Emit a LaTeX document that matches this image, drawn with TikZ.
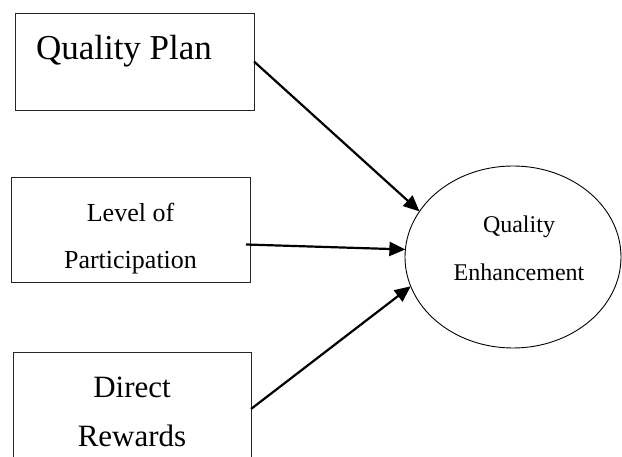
\documentclass[tikz,border=0pt]{standalone}
\usepackage{fontspec}
\setmainfont{Liberation Serif}
\usetikzlibrary{arrows.meta, positioning, shapes}

\begin{document}
\begin{tikzpicture}[x=1pt, y=1pt]
\tikzset{every node/.style={inner sep=0mm, outer sep=0mm}}

\tikzstyle{factor}=[rectangle, draw=black!85, line width=0.9pt, minimum width=239pt]
\tikzstyle{outcome}=[ellipse, draw=black, line width=0.9pt, minimum width=216pt, minimum height=182pt]
\tikzstyle{label}=[align=center]
\tikzstyle{post}=[-{Triangle[length=16pt, width=14pt]}, line width=2.2pt]

\clip (0,0) rectangle (622,457);

\node[factor, minimum height=97pt] (plan) at (134.5,395.5) {};
\node[anchor=base west, font=\fontsize{35}{42}\selectfont] (plan label) at (36,397) {Quality Plan};

\node[factor, minimum height=105pt] (level) at (130.5,227.5) {};
\node[label, anchor=base, font=\fontsize{26}{47}\selectfont] (level label) at (130.5,188) {Level of\\Participation};

\node[factor, minimum width=238pt, minimum height=114pt] (rewards) at (132,48) {};
\node[label, anchor=base, font=\fontsize{31}{49}\selectfont] (rewards label) at (132,10) {Direct\\Rewards};

\node[outcome] (enh) at (513,200) {};
\node[label, anchor=base, font=\fontsize{24}{48}\selectfont] (enh label) at (519,176) {Quality\\Enhancement};

\draw[post] (plan.east) -- (enh.154);
\draw[post] ([xshift=-4pt, yshift=-15pt]level.east) -- (enh.176);
\draw[post] (rewards.east) -- (enh.196);

\end{tikzpicture}
\end{document}
